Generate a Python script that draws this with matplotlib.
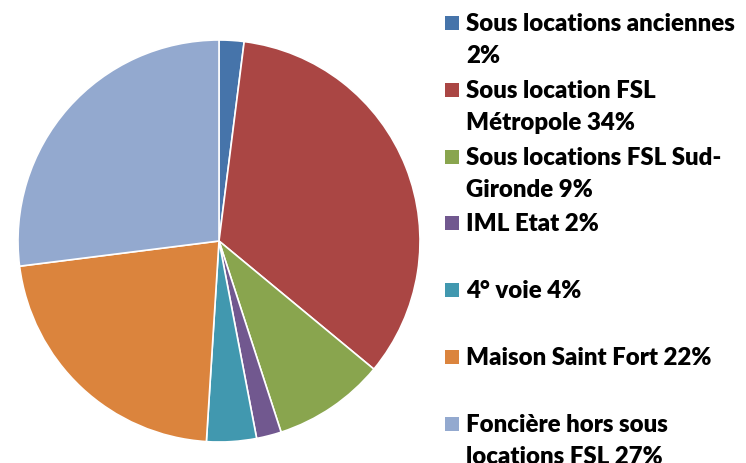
import matplotlib.pyplot as plt
from matplotlib.patches import Rectangle

labels = ["Sous locations anciennes\n2%",
          "Sous location FSL\nMétropole 34%",
          "Sous locations FSL Sud-\nGironde 9%",
          "IML Etat 2%",
          "4° voie 4%",
          "Maison Saint Fort 22%",
          "Foncière hors sous\nlocations FSL 27%"]
shares = [2, 34, 9, 2, 4, 22, 27]
colors = ['#4674AA', '#AA4644', '#89A54E', '#71588F', '#4198AF', '#DB843D', '#93A9CF']

W, H = 746, 464
fig = plt.figure(figsize=(W / 100, H / 100), dpi=100)
ax = fig.add_axes([18 / W, 21 / H, 402 / W, 402 / H])
ax.pie(shares, colors=colors, startangle=90, counterclock=False,
       wedgeprops=dict(edgecolor='white', linewidth=1.2))
ax.set_xlim(-1, 1)
ax.set_ylim(-1, 1)
ax.set_aspect('equal')

# legend drawn by hand: square at first line, two-line slots
for i, (lab, c) in enumerate(zip(labels, colors)):
    base = 31 + i * 66.8
    fig.patches.append(Rectangle((445 / W, 1 - (base) / H), 14 / W, 14 / H,
                                 transform=fig.transFigure, facecolor=c, edgecolor='none'))
    for j, line in enumerate(lab.split('\n')):
        fig.text(466 / W, 1 - (base + j * 32) / H, line, fontsize=17.3, fontweight='heavy',
                 family='Lato', va='baseline', ha='left', color='black')

fig.savefig('out.png', dpi=100)
